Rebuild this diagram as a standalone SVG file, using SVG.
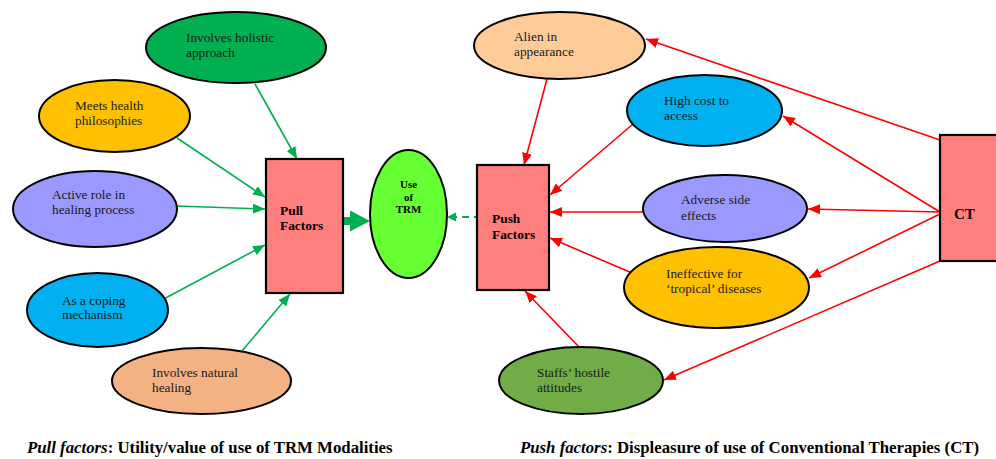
<svg xmlns="http://www.w3.org/2000/svg" width="996" height="459" viewBox="0 0 996 459">
<style>
.bg{fill:#ffffff}
.node{stroke:#000;stroke-width:2}
.box{fill:#FF7F7F;stroke:#000;stroke-width:2.2}
.t{font-family:"Liberation Serif","Times New Roman",serif;font-size:13.3px;fill:#1a1a1a}
.tb{font-family:"Liberation Serif","Times New Roman",serif;font-weight:bold;fill:#000}
.g{stroke:#00B050;stroke-width:1.6;fill:none;marker-end:url(#ag)}
.r{stroke:#FF0000;stroke-width:1.6;fill:none;marker-end:url(#ar)}
.cap{font-family:"Liberation Serif","Times New Roman",serif;font-weight:bold;font-size:16.8px;fill:#000}
</style>
<defs>
<marker id="ag" markerUnits="userSpaceOnUse" markerWidth="12" markerHeight="10" refX="12" refY="5" orient="auto"><path d="M0,0 L12,5 L0,10 z" fill="#00B050"/></marker>
<marker id="ar" markerUnits="userSpaceOnUse" markerWidth="12" markerHeight="10" refX="12" refY="5" orient="auto"><path d="M0,0 L12,5 L0,10 z" fill="#FF0000"/></marker>
</defs>
<rect class="bg" x="0" y="0" width="996" height="459"/>

<g id="connectors">
<line class="g" x1="255" y1="84" x2="297" y2="159"/>
<line class="g" x1="177" y1="138" x2="265" y2="197"/>
<line class="g" x1="177" y1="206" x2="265" y2="209"/>
<line class="g" x1="160" y1="301" x2="265" y2="245"/>
<line class="g" x1="242" y1="351" x2="290" y2="294"/>
<path d="M343,217 L350,217 L350,210.5 L370,221 L350,231.5 L350,225 L343,225 z" fill="#00B050"/>
<line x1="481" y1="217" x2="456" y2="217" stroke="#00B050" stroke-width="2.2" stroke-dasharray="7,5"/>
<path d="M447,217 L456,212.5 L456,221.5 z" fill="#00B050"/>
<line class="r" x1="547" y1="79" x2="524" y2="165"/>
<line class="r" x1="633" y1="124" x2="550" y2="195"/>
<line class="r" x1="643" y1="212" x2="550" y2="212"/>
<line class="r" x1="632" y1="273" x2="550" y2="238"/>
<line class="r" x1="580" y1="348" x2="525" y2="291"/>
<line class="r" x1="940" y1="140" x2="646" y2="39"/>
<line class="r" x1="940" y1="212" x2="783" y2="116"/>
<line class="r" x1="940" y1="212" x2="808" y2="209"/>
<line class="r" x1="940" y1="214" x2="809" y2="278"/>
<line class="r" x1="940" y1="261" x2="664" y2="380"/>
</g>

<g id="n-holistic">
<ellipse class="node" cx="236" cy="47.5" rx="90" ry="35.5" fill="#00B050"/>
<text class="t" x="186" y="42">Involves holistic</text>
<text class="t" x="186" y="57">approach</text>
</g>
<g id="n-philosophies">
<ellipse class="node" cx="114.5" cy="116" rx="75.5" ry="36" fill="#FFC000"/>
<text class="t" x="75" y="110">Meets health</text>
<text class="t" x="75" y="125">philosophies</text>
</g>
<g id="n-active">
<ellipse class="node" cx="95" cy="209" rx="82" ry="38" fill="#9999FF"/>
<text class="t" x="52" y="199">Active role in</text>
<text class="t" x="52" y="214">healing process</text>
</g>
<g id="n-coping">
<ellipse class="node" cx="97.5" cy="310" rx="70.5" ry="37" fill="#00B0F0"/>
<text class="t" x="62" y="305">As a coping</text>
<text class="t" x="62" y="319">mechanism</text>
</g>
<g id="n-natural">
<ellipse class="node" cx="201.5" cy="381" rx="89.5" ry="33" fill="#F4B183"/>
<text class="t" x="152" y="377">Involves natural</text>
<text class="t" x="152" y="392">healing</text>
</g>
<g id="n-pull">
<rect class="box" x="266" y="159" width="77" height="134"/>
<text class="tb" x="280" y="215" font-size="13.4">Pull</text>
<text class="tb" x="280" y="230" font-size="13.4">Factors</text>
</g>
<g id="n-trm">
<ellipse class="node" cx="408.5" cy="214" rx="38.5" ry="64" fill="#66FF33"/>
<text class="tb" x="408.5" y="188" font-size="11" text-anchor="middle">Use</text>
<text class="tb" x="408.5" y="201" font-size="11" text-anchor="middle">of</text>
<text class="tb" x="408.5" y="213" font-size="11" text-anchor="middle">TRM</text>
</g>
<g id="n-push">
<rect class="box" x="477" y="165" width="72" height="125"/>
<text class="tb" x="492" y="223" font-size="13.4">Push</text>
<text class="tb" x="492" y="239" font-size="13.4">Factors</text>
</g>
<g id="n-alien">
<ellipse class="node" cx="559.5" cy="45.5" rx="85.5" ry="33.5" fill="#FFCC99"/>
<text class="t" x="514" y="41">Alien in</text>
<text class="t" x="514" y="56">appearance</text>
</g>
<g id="n-cost">
<ellipse class="node" cx="704.5" cy="110.5" rx="77.5" ry="35.5" fill="#00B0F0"/>
<text class="t" x="664" y="105">High cost to</text>
<text class="t" x="664" y="120">access</text>
</g>
<g id="n-adverse">
<ellipse class="node" cx="725" cy="208.5" rx="82" ry="33.5" fill="#9999FF"/>
<text class="t" x="681" y="204">Adverse side</text>
<text class="t" x="681" y="220">effects</text>
</g>
<g id="n-ineffective">
<ellipse class="node" cx="716.5" cy="287.5" rx="92.5" ry="40.5" fill="#FFC000"/>
<text class="t" x="666" y="278">Ineffective for</text>
<text class="t" x="666" y="293">‘tropical’ diseases</text>
</g>
<g id="n-staffs">
<ellipse class="node" cx="581" cy="380.5" rx="82" ry="33.5" fill="#70AD47"/>
<text class="t" x="537" y="377">Staffs’ hostile</text>
<text class="t" x="537" y="392">attitudes</text>
</g>
<g id="n-ct">
<rect class="box" x="940" y="135" width="62" height="126"/>
<text class="tb" x="954" y="219" font-size="15">CT</text>
</g>

<g id="captions">
<text class="cap" x="27" y="453"><tspan font-style="italic">Pull factors</tspan>: Utility/value of use of TRM Modalities</text>
<text class="cap" x="520" y="453"><tspan font-style="italic">Push factors</tspan>: Displeasure of use of Conventional Therapies (CT)</text>
</g>
</svg>
